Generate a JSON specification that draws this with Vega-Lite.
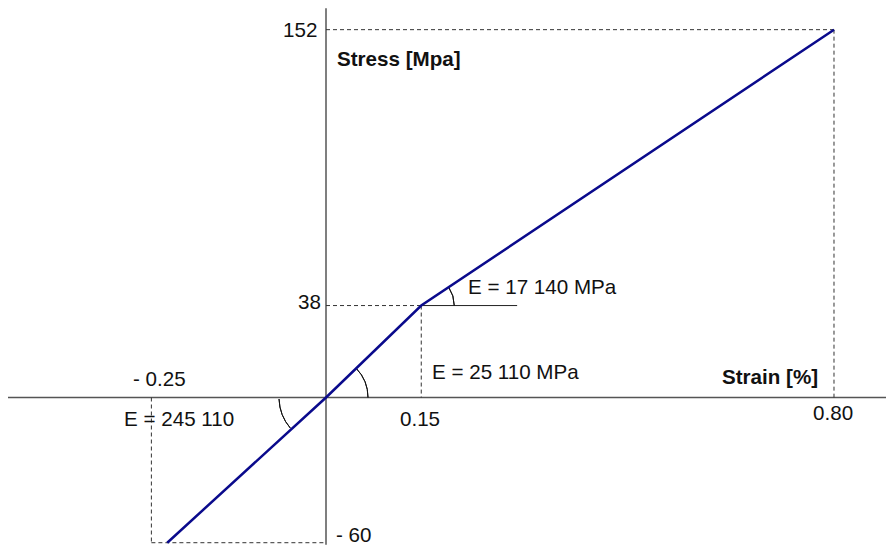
{
  "$schema": "https://vega.github.io/schema/vega-lite/v6.json",
  "width": 886,
  "height": 546,
  "autosize": "none",
  "padding": 0,
  "background": "white",
  "config": {"view": {"stroke": null}},
  "datasets": {
    "curve": [
      {"strain": -0.25, "stress": -60, "order": 1},
      {"strain": 0, "stress": 0, "order": 2},
      {"strain": 0.15, "stress": 38, "order": 3},
      {"strain": 0.8, "stress": 152, "order": 4}
    ],
    "dashed": [
      {"x": 0, "x2": 0.8, "y": 152, "y2": 152},
      {"x": 0.8, "x2": 0.8, "y": 152, "y2": 0},
      {"x": 0, "x2": 0.15, "y": 38, "y2": 38},
      {"x": 0.15, "x2": 0.15, "y": 38, "y2": 0},
      {"x": -0.275, "x2": -0.275, "y": 0, "y2": -60},
      {"x": -0.275, "x2": 0, "y": -60, "y2": -60}
    ],
    "axes": [
      {"x": -0.5008, "x2": 0.8819, "y": 0, "y2": 0},
      {"x": 0, "x2": 0, "y": 160.9, "y2": -60.8}
    ],
    "solid": [
      {"x": 0.15, "x2": 0.301, "y": 38, "y2": 38}
    ],
    "labels": [
      {"x": -0.0677, "y": 151.6, "text": "152"},
      {"x": -0.0441, "y": 39.1, "text": "38"},
      {"x": 0.2236, "y": 45.3, "text": "E = 17 140 MPa"},
      {"x": 0.1669, "y": 10.3, "text": "E = 25 110 MPa"},
      {"x": -0.3039, "y": 7.4, "text": "- 0.25"},
      {"x": -0.3181, "y": -9.1, "text": "E = 245 110"},
      {"x": 0.1165, "y": -9.1, "text": "0.15"},
      {"x": 0.0157, "y": -57.3, "text": "- 60"},
      {"x": 0.767, "y": -7.0, "text": "0.80"}
    ],
    "boldLabels": [
      {"x": 0.0173, "y": 139.6, "text": "Stress [Mpa]"},
      {"x": 0.6236, "y": 8.2, "text": "Strain [%]"}
    ]
  },
  "layer": [
    {
      "data": {"name": "axes"},
      "mark": {"type": "rule", "color": "#555555", "strokeWidth": 1.5},
      "encoding": {
        "x": {"field": "x", "type": "quantitative", "scale": {"domain": [-0.5134, 0.8819], "nice": false, "zero": false}, "axis": null},
        "x2": {"field": "x2"},
        "y": {"field": "y", "type": "quantitative", "scale": {"domain": [-61.36, 164.26], "nice": false, "zero": false}, "axis": null},
        "y2": {"field": "y2"}
      }
    },
    {
      "data": {"name": "dashed"},
      "mark": {"type": "rule", "color": "#333333", "strokeWidth": 1, "strokeDash": [4, 3]},
      "encoding": {
        "x": {"field": "x", "type": "quantitative"},
        "x2": {"field": "x2"},
        "y": {"field": "y", "type": "quantitative"},
        "y2": {"field": "y2"}
      }
    },
    {
      "data": {"name": "solid"},
      "mark": {"type": "rule", "color": "#222222", "strokeWidth": 1},
      "encoding": {
        "x": {"field": "x", "type": "quantitative"},
        "x2": {"field": "x2"},
        "y": {"field": "y", "type": "quantitative"},
        "y2": {"field": "y2"}
      }
    },
    {
      "data": {"values": [{}]},
      "mark": {"type": "arc", "theta": 0.806, "theta2": 1.5708, "innerRadius": 42, "outerRadius": 42, "fill": "transparent", "stroke": "#111111", "strokeWidth": 1},
      "encoding": {
        "x": {"datum": 0, "type": "quantitative"},
        "y": {"datum": 0, "type": "quantitative"}
      }
    },
    {
      "data": {"values": [{}]},
      "mark": {"type": "arc", "theta": 0.98, "theta2": 1.5708, "innerRadius": 33, "outerRadius": 33, "fill": "transparent", "stroke": "#111111", "strokeWidth": 1},
      "encoding": {
        "x": {"datum": 0.15, "type": "quantitative"},
        "y": {"datum": 38, "type": "quantitative"}
      }
    },
    {
      "data": {"values": [{}]},
      "mark": {"type": "arc", "theta": 4.0, "theta2": 4.68, "innerRadius": 47, "outerRadius": 47, "fill": "transparent", "stroke": "#111111", "strokeWidth": 1},
      "encoding": {
        "x": {"datum": 0, "type": "quantitative"},
        "y": {"datum": 0, "type": "quantitative"}
      }
    },
    {
      "data": {"name": "curve"},
      "mark": {"type": "line", "color": "#0a0a8c", "strokeWidth": 2.5},
      "encoding": {
        "x": {"field": "strain", "type": "quantitative"},
        "y": {"field": "stress", "type": "quantitative"},
        "order": {"field": "order"}
      }
    },
    {
      "data": {"name": "labels"},
      "mark": {"type": "text", "align": "left", "baseline": "middle", "font": "Liberation Sans", "fontSize": 20.6, "color": "#111111"},
      "encoding": {
        "x": {"field": "x", "type": "quantitative"},
        "y": {"field": "y", "type": "quantitative"},
        "text": {"field": "text"}
      }
    },
    {
      "data": {"name": "boldLabels"},
      "mark": {"type": "text", "align": "left", "baseline": "middle", "font": "Liberation Sans", "fontSize": 20.6, "fontWeight": "bold", "color": "#111111"},
      "encoding": {
        "x": {"field": "x", "type": "quantitative"},
        "y": {"field": "y", "type": "quantitative"},
        "text": {"field": "text"}
      }
    }
  ]
}
